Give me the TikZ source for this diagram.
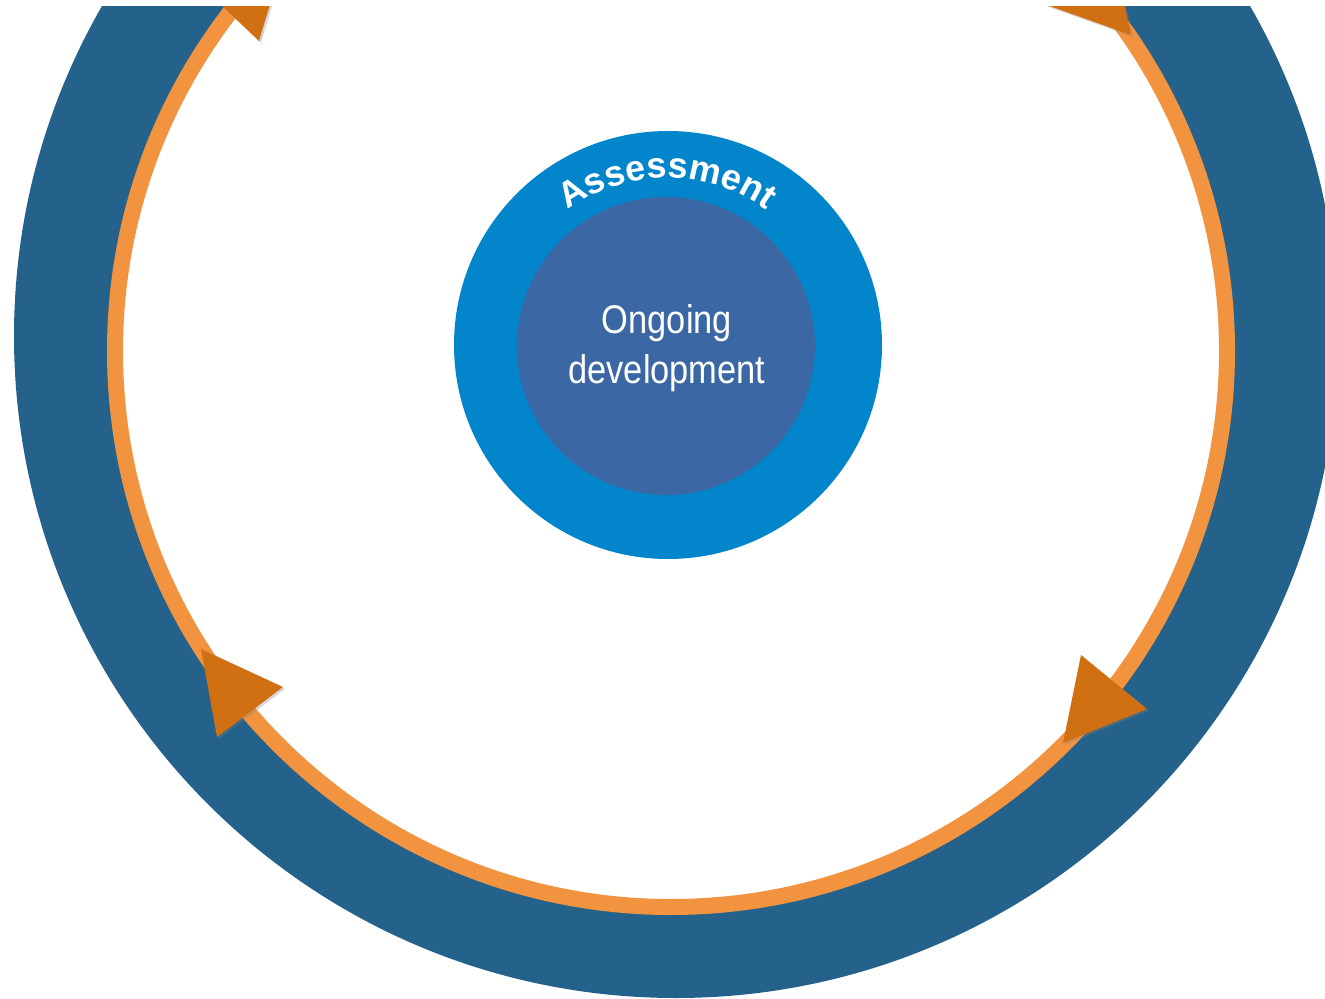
\documentclass[tikz,border=0pt]{standalone}
\usepackage{fontspec}
\setmainfont{Liberation Sans}
\newfontfamily\narrowfont[FakeStretch=0.86]{Liberation Sans}
\usetikzlibrary{decorations.text,shadows}
\definecolor{ringblue}{HTML}{24628B}
\definecolor{looporange}{HTML}{F29340}
\definecolor{tiporange}{HTML}{D17012}
\definecolor{assessblue}{HTML}{0285CA}
\definecolor{coreblue}{HTML}{3B68A5}
\begin{document}
\begin{tikzpicture}[x=0.75pt, y=-0.75pt,
    looptip/.style={fill=tiporange, drop shadow={opacity=0.3, shadow xshift=1.5pt, shadow yshift=-1.5pt}}]
  \useasboundingbox (0,0) rectangle (1325,999);
  \clip (0,7) rectangle (1325,999);

  % outer band and the loop inside it
  \fill[ringblue] (676,336) circle (662);
  \draw[looporange, line width=12pt, fill=white] (671,351) circle (556);

  % tips on the loop
  \fill[looptip] (259,41) -- (196,-19) -- (284,-42) -- cycle;
  \fill[looptip] (1131,35) -- (1041,3) -- (1111,-58) -- cycle;
  \fill[looptip] (201,649) -- (283,687) -- (217,737) -- cycle;
  \fill[looptip] (1081,655) -- (1147,709) -- (1063,743) -- cycle;

  % centre
  \fill[assessblue] (668,345) circle (214);
  \fill[coreblue] (666,346) circle (149);
  \path[decorate, decoration={text along path, text align=center, text color=white,
      text={|\bfseries\fontsize{27}{27}\selectfont|Assessment}}]
    (559.0,217.3) arc[start angle=-130, end angle=-50, radius=168];
  \node[text=white, align=center, font=\narrowfont\fontsize{30}{37.5}\selectfont] (core) at (667,348) {Ongoing\\development};
\end{tikzpicture}
\end{document}
